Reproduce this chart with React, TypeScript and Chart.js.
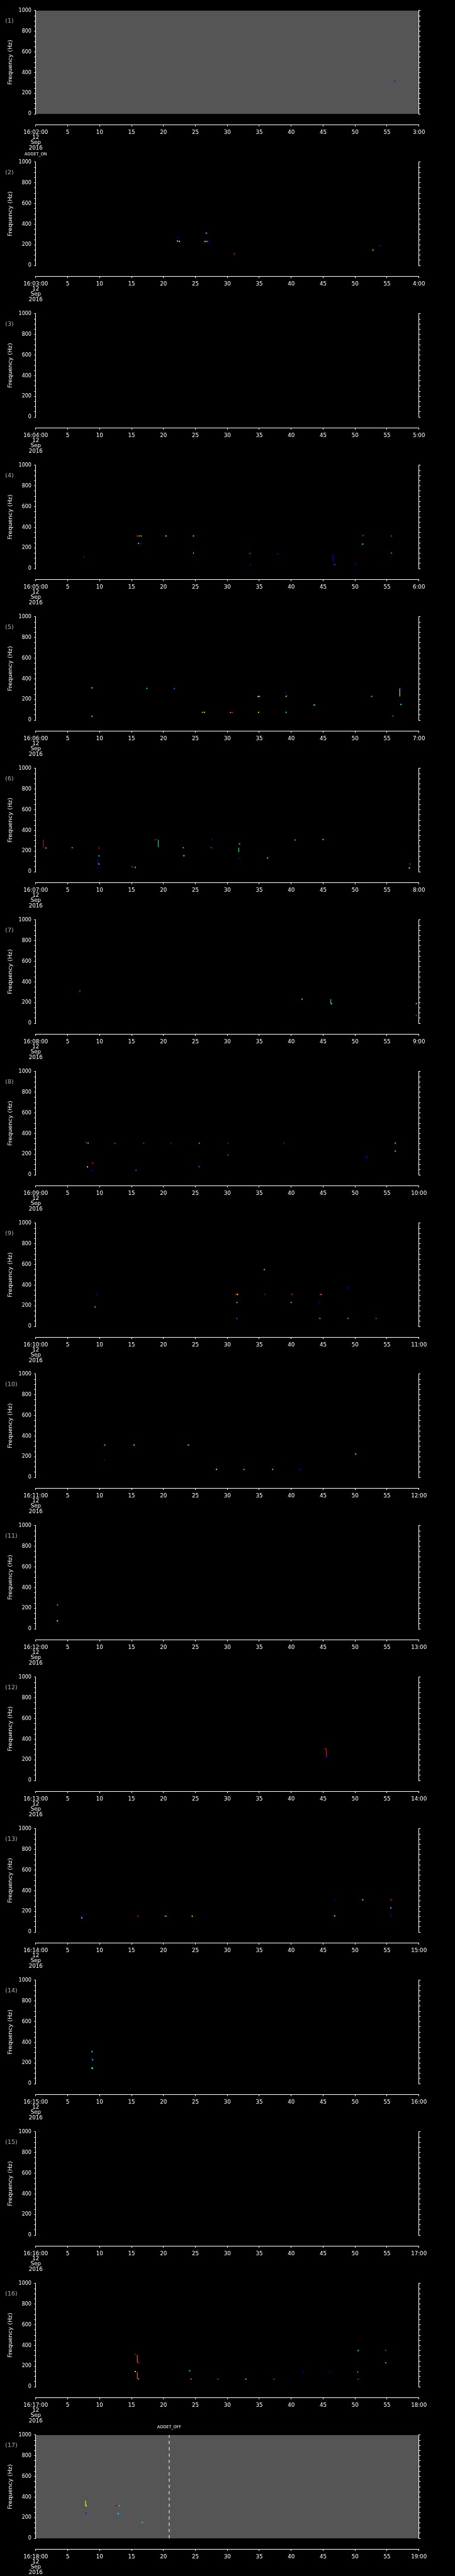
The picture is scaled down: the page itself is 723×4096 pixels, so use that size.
import React, { useEffect, useRef } from 'react';
import { Chart, registerables } from 'chart.js';

Chart.register(...registerables);

// ---------------- data ----------------
// start minute (16:MM:00) of each of the 17 one-minute panels
const startMinutes = [2, 3, 4, 5, 6, 7, 8, 9, 10, 11, 12, 13, 14, 15, 16, 17, 18];
const startHour = 16;
const dateLines = ['12', 'Sep', '2016'];
const yTickValues = [0, 200, 400, 600, 800, 1000];
const grayPanels = [1, 17];
const eventPanels = [2, 17];
const eventSeconds = [0, 20.9];
const eventLabels = ['ADDET_ON', 'ADDET_OFF'];

// intensity level -> colour (rainbow colour table)
const colormap = ['#0000ff', '#0070ff', '#00ffff', '#00ff80', '#a0ff00', '#ffff00', '#ff8000', '#ff0000', '#a00000'];

// dots: [second, frequency Hz, level]
const dots1 = [[56.2, 315, 0]];
const dots2 = [
  [22.3, 271, 0], [22.2, 237, 4], [22.5, 233, 5], [26.7, 314, 2], [26.9, 314, 0],
  [26.5, 233, 5], [26.8, 233, 2], [27.1, 233, 0], [31.1, 117, 0], [31.1, 111, 7],
  [52.8, 150, 3], [53.8, 190, 0],
];
const dots3 = [];
const dots4 = [
  [7.5, 115, 8], [15.9, 316, 7], [16.2, 316, 6], [16.5, 316, 3], [16.1, 244, 3], [16.5, 244, 0],
  [20.4, 316, 4], [24.7, 316, 2], [33.5, 146, 7], [33.7, 146, 0], [33.6, 40, 0], [37.9, 141, 0],
  [46.8, 40, 1], [50.1, 47, 0], [51.2, 320, 7], [51.4, 322, 0], [51.2, 237, 2], [55.7, 316, 7],
];
const dots5 = [
  [8.8, 313, 2], [8.8, 37, 2], [17.4, 308, 2], [21.7, 306, 1], [26.1, 76, 3], [26.4, 76, 5],
  [30.5, 75, 6], [30.8, 75, 7], [34.8, 229, 2], [35.0, 230, 5], [34.9, 76, 5], [39.1, 265, 0],
  [39.2, 230, 5], [39.2, 76, 2], [43.6, 147, 2], [52.6, 230, 2], [55.9, 40, 1], [57.3, 308, 0],
  [57.2, 152, 2],
];
const dots6 = [
  [1.6, 230, 2], [5.7, 233, 6], [9.9, 230, 7], [9.9, 154, 3], [9.9, 75, 2], [9.7, 40, 0],
  [15.1, 48, 1], [15.6, 42, 2], [18.8, 311, 7], [23.1, 233, 6], [23.2, 156, 5], [27.6, 313, 0],
  [27.5, 233, 7], [31.9, 270, 2], [31.9, 130, 0], [36.3, 133, 2], [40.6, 308, 6], [45.0, 313, 2],
  [58.6, 75, 1], [58.5, 37, 5],
];
const dots7 = [[6.9, 313, 1], [41.7, 235, 2], [46.3, 190, 2], [59.6, 192, 4], [59.6, 76, 1]];
const dots8 = [
  [7.9, 313, 7], [8.2, 308, 2], [12.4, 306, 1], [16.9, 308, 7], [21.2, 308, 8], [25.6, 308, 6],
  [30.1, 308, 8], [38.9, 308, 8], [56.3, 308, 2], [56.3, 230, 2], [30.1, 192, 1], [8.9, 114, 7],
  [8.1, 78, 5], [8.9, 43, 0], [15.7, 43, 1], [25.6, 79, 1],
];
const dots9 = [
  [9.6, 311, 0], [9.3, 189, 3], [31.4, 310, 7], [31.6, 310, 5], [31.5, 232, 2], [31.5, 78, 1],
  [35.8, 551, 2], [35.9, 310, 8], [40.1, 310, 7], [40.0, 232, 3], [44.5, 310, 8], [44.7, 310, 6],
  [44.4, 232, 0], [44.5, 78, 3], [48.9, 78, 6], [53.3, 78, 1],
];
const dots10 = [
  [10.8, 313, 3], [10.8, 168, 0], [15.4, 313, 2], [23.9, 313, 2], [28.3, 78, 5], [32.6, 76, 2],
  [37.1, 78, 4], [41.4, 76, 0], [50.1, 227, 2],
];
const dots11 = [[3.4, 232, 6], [3.4, 79, 5]];
const dots12 = [[45.3, 306, 7], [45.6, 230, 0]];
const dots13 = [
  [7.2, 138, 2], [16.0, 154, 7], [20.2, 154, 7], [20.4, 154, 2], [24.5, 154, 5], [46.8, 308, 0],
  [46.8, 157, 5], [51.2, 313, 2], [55.6, 313, 7], [55.8, 308, 0], [55.6, 235, 2], [55.7, 159, 0],
];
const dots14 = [[8.8, 310, 3], [8.7, 248, 0], [8.9, 232, 2], [8.8, 151, 5], [8.9, 149, 2]];
const dots15 = [];
const dots16 = [
  [15.6, 313, 8], [16.1, 233, 7], [15.6, 148, 5], [16.1, 76, 6], [24.1, 156, 2], [24.3, 75, 6],
  [28.5, 75, 7], [32.9, 75, 4], [37.3, 75, 7], [46.0, 150, 0], [50.5, 351, 2], [50.5, 75, 7],
  [54.8, 352, 1], [54.8, 233, 3],
];
const dots17 = [
  [7.9, 316, 5], [7.9, 242, 0], [12.5, 318, 8], [12.8, 315, 7], [13.1, 315, 3], [12.9, 240, 2],
  [13.2, 242, 1], [16.7, 156, 3],
];

// vertical streaks: [second, from Hz, to Hz, level]
const segs2 = [[52.8, 143, 157, 3]];
const segs4 = [[24.7, 142, 158, 2], [46.6, 66, 146, 0], [55.7, 142, 158, 3]];
const segs5 = [[39.4, 232, 248, 0], [57.0, 230, 308, 5], [43.7, 143, 149, 2]];
const segs6 = [[1.2, 233, 310, 7], [9.7, 76, 119, 0], [19.2, 238, 310, 3], [31.8, 190, 233, 3]];
const segs7 = [[46.2, 190, 235, 3]];
const segs8 = [[51.8, 154, 190, 0]];
const segs9 = [[48.9, 359, 390, 0]];
const segs12 = [[45.5, 230, 306, 7]];
const segs13 = [[7.2, 138, 162, 0]];
const segs16 = [[15.9, 233, 310, 6], [15.9, 76, 143, 6], [41.8, 130, 151, 0], [50.4, 135, 151, 3]];
const segs17 = [[7.8, 316, 366, 5]];

const panelDots = [dots1, dots2, dots3, dots4, dots5, dots6, dots7, dots8, dots9, dots10, dots11, dots12, dots13, dots14, dots15, dots16, dots17];
const panelSegs = [[], segs2, [], segs4, segs5, segs6, segs7, segs8, segs9, [], [], segs12, segs13, [], [], segs16, segs17];

// ---------------- layout ----------------
const S = 0.705;
const W = 723;
const H = 4096;
const NP = startMinutes.length;
const PH = H / NP;
const PAD_TOP = 24 * S;
const PLOT_LEFT = 80.6 * S;
const PLOT_RIGHT = 944.2 * S;
const PLOT_H = 233 * S;
const GAP = 24 * S;
const Y2_W = 4;
const FONT = 'DejaVu Sans, Verdana, sans-serif';

const pad2 = (n: number) => (n < 10 ? '0' + n : String(n));

const decorPlugin = {
  id: 'decor',
  beforeDraw(chart: any, _a: any, opts: any) {
    const { ctx, chartArea } = chart;
    ctx.save();
    ctx.fillStyle = '#000';
    ctx.fillRect(0, 0, chart.width, chart.height);
    if (opts.gray) {
      ctx.fillStyle = '#555555';
      ctx.fillRect(chartArea.left, chartArea.top, chartArea.right - chartArea.left, chartArea.bottom - chartArea.top);
    }
    ctx.restore();
  },
  afterDraw(chart: any, _a: any, opts: any) {
    const { ctx } = chart;
    ctx.save();
    ctx.fillStyle = '#b0b0b0';
    ctx.font = `9.5px ${FONT}`;
    ctx.textAlign = 'left';
    ctx.textBaseline = 'middle';
    ctx.fillText(`(${opts.num})`, 8.3, 33.1);
    if (opts.eventLabel) {
      const x = chart.scales.x.getPixelForValue(opts.eventT);
      ctx.fillStyle = '#ffffff';
      ctx.font = `6.5px ${FONT}`;
      ctx.textAlign = 'center';
      ctx.fillText(opts.eventLabel, x, 4.2);
    }
    ctx.restore();
  },
};

function buildConfig(i: number, h: number) {
  const m = startMinutes[i];
  const num = i + 1;
  const dots = panelDots[i];
  const segs = panelSegs[i];
  const evIdx = eventPanels.indexOf(num);
  const datasets: any[] = [];
  datasets.push({
    type: 'scatter',
    data: dots.map((d) => ({ x: d[0], y: d[1] })),
    pointStyle: 'rect',
    pointRadius: 1.3,
    pointBorderWidth: 0,
    pointBackgroundColor: dots.map((d) => colormap[d[2]]),
    xAxisID: 'x',
    yAxisID: 'y',
  });
  segs.forEach((s) => {
    datasets.push({
      type: 'line',
      data: [{ x: s[0], y: s[1] }, { x: s[0], y: s[2] }],
      borderColor: colormap[s[3]],
      borderWidth: 1,
      pointRadius: 0,
      xAxisID: 'x',
      yAxisID: 'y',
    });
  });
  if (evIdx >= 0 && eventSeconds[evIdx] > 0) {
    const t = eventSeconds[evIdx];
    datasets.push({
      type: 'line',
      data: [{ x: t, y: 0 }, { x: t, y: 1000 }],
      borderColor: '#ffffff',
      borderWidth: 1,
      borderDash: [5, 5],
      pointRadius: 0,
      xAxisID: 'x',
      yAxisID: 'y',
    });
  }
  const xaHeight = h - PAD_TOP - PLOT_H - GAP;
  return {
    type: 'scatter',
    data: { datasets },
    plugins: [decorPlugin],
    options: {
      animation: false,
      responsive: false,
      events: [],
      layout: { padding: { top: PAD_TOP, left: 0, right: W - PLOT_RIGHT - Y2_W, bottom: 0 } },
      plugins: {
        legend: { display: false },
        tooltip: { enabled: false },
        decor: {
          num,
          gray: grayPanels.includes(num),
          eventLabel: evIdx >= 0 ? eventLabels[evIdx] : null,
          eventT: evIdx >= 0 ? eventSeconds[evIdx] : 0,
        },
      },
      scales: {
        x: {
          type: 'linear',
          position: 'bottom',
          weight: 0,
          min: 0,
          max: 60,
          grid: { display: false },
          border: { display: false },
          ticks: { display: false },
          afterFit: (s: any) => { s.height = GAP; },
        },
        xa: {
          type: 'linear',
          position: 'bottom',
          weight: 1,
          min: 0,
          max: 60,
          grid: { display: true, drawOnChartArea: false, drawTicks: true, tickLength: 3, color: '#ffffff', lineWidth: 1 },
          border: { display: true, color: '#ffffff', width: 1 },
          ticks: {
            stepSize: 5,
            autoSkip: false,
            maxRotation: 0,
            padding: 5.4,
            color: '#ffffff',
            font: { family: FONT, size: 8.7, lineHeight: 0.95 },
            callback: (v: number) => {
              if (v === 0) return [`${startHour}:${pad2(m)}:00`, ...dateLines];
              if (v === 60) return `${m + 1}:00`;
              return String(v);
            },
          },
          afterFit: (s: any) => { s.height = xaHeight; },
        },
        y: {
          type: 'linear',
          position: 'left',
          min: 0,
          max: 1000,
          grid: { display: true, drawOnChartArea: false, drawTicks: true, tickLength: 2.5, color: '#ffffff', lineWidth: 1 },
          border: { display: true, color: '#ffffff', width: 1 },
          ticks: {
            stepSize: 50,
            autoSkip: false,
            padding: 4.4,
            color: '#ffffff',
            font: { family: FONT, size: 8 },
            callback: (v: number) => (yTickValues.includes(v) ? String(v) : ''),
          },
          title: {
            display: true,
            text: 'Frequency (Hz)',
            color: '#ffffff',
            font: { family: FONT, size: 9.5 },
            padding: { top: 10.5, bottom: 0 },
          },
          afterFit: (s: any) => { s.width = PLOT_LEFT; },
        },
        y2: {
          type: 'linear',
          position: 'right',
          min: 0,
          max: 1000,
          grid: { display: true, drawOnChartArea: false, drawTicks: true, tickLength: 2.5, color: '#ffffff', lineWidth: 1 },
          border: { display: true, color: '#ffffff', width: 1 },
          ticks: { stepSize: 50, autoSkip: false, display: false },
          afterFit: (s: any) => { s.width = Y2_W; },
        },
      },
    },
  };
}

function Panel({ index }: { index: number }) {
  const ref = useRef<HTMLCanvasElement | null>(null);
  const top = Math.round(index * PH);
  const h = Math.round((index + 1) * PH) - top;
  useEffect(() => {
    if (!ref.current) return;
    const chart = new Chart(ref.current, buildConfig(index, h) as any);
    return () => chart.destroy();
  }, [index, h]);
  return (
    <canvas
      ref={ref}
      width={W}
      height={h}
      style={{ position: 'absolute', left: 0, top, width: W, height: h, display: 'block' }}
    />
  );
}

export default function App() {
  return (
    <div style={{ position: 'relative', width: W, height: H, background: '#000', overflow: 'hidden' }}>
      <style>{'html,body{margin:0;padding:0;background:#000;}'}</style>
      {startMinutes.map((_, i) => (
        <Panel key={i} index={i} />
      ))}
    </div>
  );
}
